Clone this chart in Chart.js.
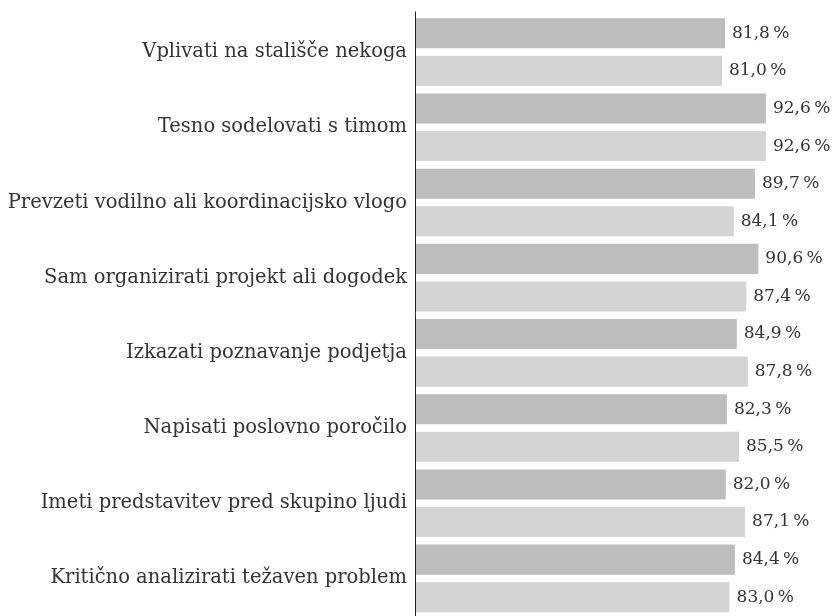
<!DOCTYPE html>
<html>
<head>
<meta charset="utf-8">
<script src="https://cdn.jsdelivr.net/npm/chart.js@4"></script>
<style>
    body { margin: 0; background: #fff; }
</style>
</head>
<body>
<canvas id="skillsChart" width="833" height="616"></canvas>
<script>
// categories and the two series (percent)
const categories = [
    "Vplivati na stališče nekoga",
    "Tesno sodelovati s timom",
    "Prevzeti vodilno ali koordinacijsko vlogo",
    "Sam organizirati projekt ali dogodek",
    "Izkazati poznavanje podjetja",
    "Napisati poslovno poročilo",
    "Imeti predstavitev pred skupino ljudi",
    "Kritično analizirati težaven problem"
];
const firstSeries = [81.8, 92.6, 89.7, 90.6, 84.9, 82.3, 82.0, 84.4];
const secondSeries = [81.0, 92.6, 84.1, 87.4, 87.8, 85.5, 87.1, 83.0];

const FONT = '"DejaVu Serif", serif';

// value labels at the end of each bar, "81,8 %"
const valueLabels = {
    id: 'valueLabels',
    afterDatasetsDraw(chart) {
        const ctx = chart.ctx;
        ctx.save();
        ctx.font = '17px ' + FONT;
        ctx.fillStyle = '#333';
        ctx.textAlign = 'left';
        ctx.textBaseline = 'middle';
        chart.data.datasets.forEach((ds, i) => {
            chart.getDatasetMeta(i).data.forEach((bar, j) => {
                const txt = ds.data[j].toFixed(1).replace('.', ',') + '\u202F%';
                ctx.fillText(txt, bar.x + 7, bar.y);
            });
        });
        ctx.restore();
    }
};

// vertical axis line drawn over the bars
const axisLine = {
    id: 'axisLine',
    afterDraw(chart) {
        const { ctx, chartArea } = chart;
        const x = Math.round(chart.scales.y.right) + 0.5;
        ctx.save();
        ctx.strokeStyle = '#222';
        ctx.lineWidth = 1;
        ctx.beginPath();
        ctx.moveTo(x, chartArea.top - 3);
        ctx.lineTo(x, chart.height);
        ctx.stroke();
        ctx.restore();
    }
};

const ctx = document.getElementById("skillsChart").getContext("2d");
new Chart(ctx, {
    type: 'bar',
    data: {
        labels: categories,
        datasets: [
            { data: firstSeries, backgroundColor: '#bdbdbd', categoryPercentage: 1, barPercentage: 0.8 },
            { data: secondSeries, backgroundColor: '#d4d4d4', categoryPercentage: 1, barPercentage: 0.8 }
        ]
    },
    options: {
        indexAxis: 'y',
        responsive: false,
        animation: false,
        layout: { padding: { top: 14.5, right: 39, bottom: -6, left: 0 } },
        plugins: {
            legend: { display: false },
            tooltip: { enabled: false }
        },
        scales: {
            x: { display: false, min: 0, max: 100 },
            y: {
                grid: { display: false, drawTicks: false },
                border: { display: false },
                ticks: { color: '#333', font: { family: FONT, size: 19.5 }, padding: 8 },
                afterFit(scale) {
                    scale.width = 415;
                    scale.paddingTop = 0;
                    scale.paddingBottom = 0;
                }
            }
        }
    },
    plugins: [valueLabels, axisLine]
});
</script>
</body>
</html>
